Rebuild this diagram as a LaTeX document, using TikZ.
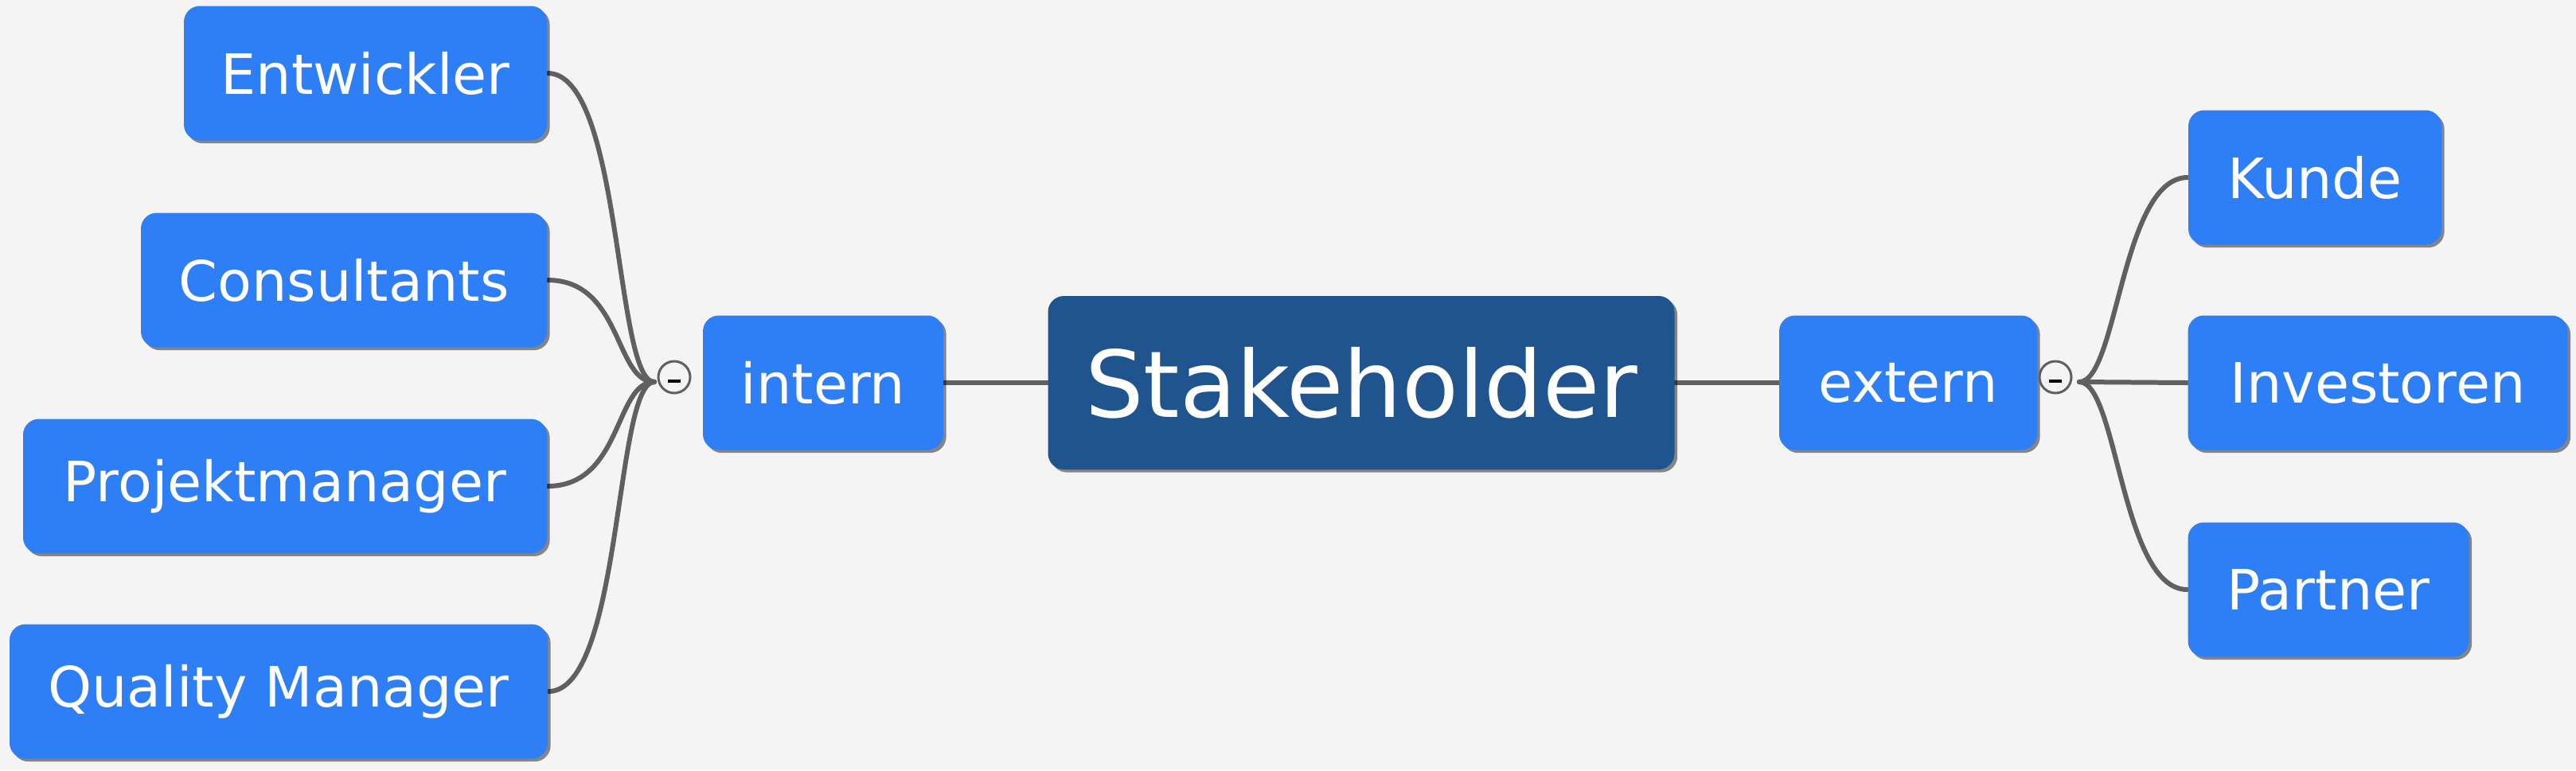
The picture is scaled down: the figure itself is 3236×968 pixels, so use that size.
\documentclass[tikz,border=0pt]{standalone}
\usepackage{fontspec}
\setmainfont{DejaVu Sans}
\usetikzlibrary{shadows}
\definecolor{bgc}{HTML}{F4F4F4}
\definecolor{topicblue}{HTML}{2E7EF5}
\definecolor{centralblue}{HTML}{20548F}
\definecolor{linegray}{HTML}{606060}
\pgfdeclarelayer{bgl}
\pgfdeclarelayer{lines}
\pgfsetlayers{bgl,lines,main}
\tikzset{
  topic/.style={rounded corners=5pt, fill=topicblue, text=white, inner sep=0pt,
    minimum height=42.25pt, align=center, font=\fontsize{17.5}{20}\selectfont,
    drop shadow={shadow xshift=0.9pt, shadow yshift=-0.9pt, opacity=0.45, fill=black}},
  central/.style={topic, fill=centralblue, minimum height=54.5pt, font=\fontsize{29}{33}\selectfont},
  conn/.style={draw=linegray, line width=1.5pt, line cap=round},
  collapser/.style={circle, draw=linegray, line width=0.75pt, fill=bgc, minimum size=10pt, inner sep=0pt},
  minusbar/.style={draw=black, line width=0.9pt}
}
\begin{document}
\begin{tikzpicture}[x=0.25pt, y=-0.25pt]
\begin{pgfonlayer}{bgl}
\fill[bgc] (0,0) rectangle (3236,968);
\end{pgfonlayer}
\useasboundingbox (0,0) rectangle (3236,968);

% central
\node[central, minimum width=196.75pt] (root) at (1710,481) {Stakeholder};
% main topics
\node[topic, minimum width=75.5pt] (intern) at (1034,481) {intern};
\node[topic, minimum width=81pt] (extern) at (2397,481) {extern};
% left children
\node[topic, minimum width=114pt] (entw) at (459,92) {Entwickler};
\node[topic, minimum width=127.5pt] (cons) at (432,352) {Consultants};
\node[topic, minimum width=164.5pt] (pm) at (358,611) {Projektmanager};
\node[topic, minimum width=169pt] (qm) at (350,869) {Quality Manager};
% right children
\node[topic, minimum width=79.5pt] (kunde) at (2908,223) {Kunde};
\node[topic, minimum width=119.25pt] (inv) at (2987,481) {Investoren};
\node[topic, minimum width=88.25pt] (partner) at (2925,741) {Partner};

% collapse markers
\node[collapser] (cl) at (847,474) {};
\node[collapser] (cr) at (2582,474) {};
\draw[minusbar] ([xshift=-2pt,yshift=-1.2pt]cl.center) -- ([xshift=2pt,yshift=-1.2pt]cl.center);
\draw[minusbar] ([xshift=-2pt,yshift=-1.2pt]cr.center) -- ([xshift=2pt,yshift=-1.2pt]cr.center);

\coordinate (jl) at (822,480);
\coordinate (jr) at (2612,480);

\begin{pgfonlayer}{lines}
\draw[conn] (intern.east) -- (root.west);
\draw[conn] (root.east) -- (extern.west);
\foreach \c/\y in {entw/92,cons/352,pm/611,qm/869}{
  \draw[conn] (jl) .. controls (772,480) and (782,\y) .. (\c.east);
}
\draw[conn] (jr) .. controls (2660,480) and (2665,223) .. (kunde.west);
\draw[conn] (jr) -- (inv.west);
\draw[conn] (jr) .. controls (2660,480) and (2665,741) .. (partner.west);
\end{pgfonlayer}
\end{tikzpicture}
\end{document}
